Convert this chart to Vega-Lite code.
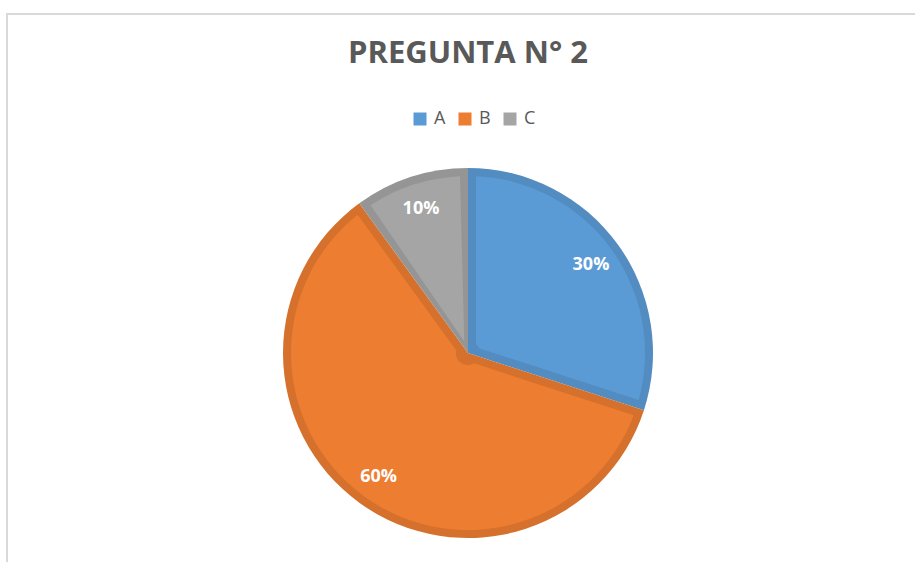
{
  "$schema": "https://vega.github.io/schema/vega-lite/v6.json",
  "width": 922,
  "height": 678,
  "autosize": {"type": "none"},
  "padding": {"left": 7, "top": 14, "right": 0, "bottom": 0},
  "background": "white",
  "view": {"stroke": "#d9d9d9", "strokeWidth": 2},
  "config": {
    "font": "Open Sans",
    "view": {"stroke": "#d9d9d9", "strokeWidth": 2}
  },
  "title": {
    "text": "PREGUNTA N° 2",
    "frame": "group",
    "anchor": "middle",
    "orient": "top",
    "offset": -80,
    "baseline": "alphabetic",
    "fontSize": 31,
    "fontWeight": "bold",
    "font": "Open Sans",
    "color": "#595959"
  },
  "data": {
    "values": [
      {"opcion": "A", "pct": 0.3},
      {"opcion": "B", "pct": 0.6},
      {"opcion": "C", "pct": 0.1}
    ]
  },
  "encoding": {
    "theta": {"field": "pct", "type": "quantitative", "stack": true},
    "order": {"field": "opcion", "type": "nominal", "sort": "ascending"}
  },
  "layer": [
    {
      "mark": {"type": "arc", "outerRadius": 185},
      "encoding": {
        "color": {
          "field": "opcion",
          "type": "nominal",
          "scale": {"domain": ["A", "B", "C"], "range": ["#528CC0", "#D5712C", "#959595"]},
          "legend": null
        }
      }
    },
    {
      "mark": {"type": "arc", "outerRadius": 177, "innerRadius": 12, "padAngle": 0.09},
      "encoding": {
        "color": {
          "field": "opcion",
          "type": "nominal",
          "title": null,
          "scale": {"domain": ["A", "B", "C"], "range": ["#5B9BD5", "#ED7D31", "#A5A5A5"]},
          "legend": {
            "orient": "none",
            "direction": "horizontal",
            "legendX": 404,
            "legendY": 96,
            "symbolType": "square",
            "symbolSize": 169,
            "symbolStrokeWidth": 0,
            "labelFontSize": 18,
            "labelColor": "#595959",
            "labelFont": "Open Sans",
            "labelOffset": 5,
            "columnPadding": 10
          }
        }
      }
    },
    {
      "mark": {"type": "text", "radius": 152, "dy": 1, "fill": "white", "fontSize": 18, "fontWeight": "bold", "font": "Open Sans"},
      "encoding": {
        "detail": {"field": "opcion", "type": "nominal"},
        "text": {"field": "pct", "type": "quantitative", "format": ".0%"}
      }
    }
  ],
  "resolve": {"scale": {"color": "independent"}, "legend": {"color": "independent"}}
}
